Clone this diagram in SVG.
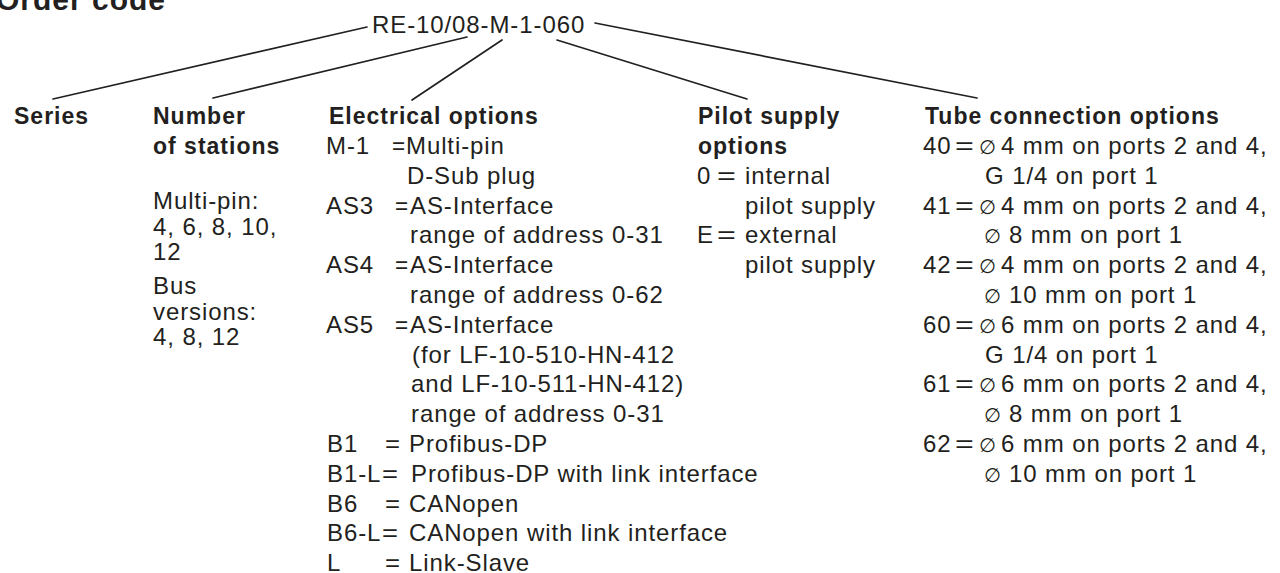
<svg xmlns="http://www.w3.org/2000/svg" width="1280" height="573" viewBox="0 0 1280 573">
<style>
text{font-family:"Liberation Sans",Arial,"DejaVu Sans",sans-serif;fill:#231f20;font-size:24px;letter-spacing:0.9px}
.h{font-weight:bold;font-size:23px;letter-spacing:1px}
.t{font-weight:bold;font-size:30px;letter-spacing:1px}
.d{font-family:"DejaVu Sans",sans-serif;font-size:19.5px;letter-spacing:0}
.c{stroke:#231f20;stroke-width:1.7;fill:none;stroke-linecap:round}
</style>
<rect width="1280" height="573" fill="#ffffff"/>
<g id="title"><text class="t" x="-4" y="10">Order code</text></g>
<g id="code"><text x="372" y="33">RE-10/08-M-1-060</text></g>
<g id="connectors">
<line class="c" x1="367" y1="27" x2="53" y2="99"/>
<line class="c" x1="467" y1="37" x2="213" y2="98"/>
<line class="c" x1="502" y1="40" x2="412" y2="100"/>
<line class="c" x1="557" y1="40" x2="747" y2="99"/>
<line class="c" x1="595" y1="23" x2="977" y2="98"/>
</g>
<g id="series"><text class="h" x="14" y="124">Series</text></g>
<g id="stations">
<text class="h" x="153" y="124">Number</text>
<text class="h" x="153" y="154">of stations</text>
<text x="153" y="209">Multi-pin:</text>
<text x="153" y="234.5">4, 6, 8, 10,</text>
<text x="153" y="260">12</text>
<text x="153" y="294">Bus</text>
<text x="153" y="319.5">versions:</text>
<text x="153" y="345">4, 8, 12</text>
</g>
<g id="electrical">
<text class="h" x="329" y="124">Electrical options</text>
<text x="326" y="154">M-1</text><text x="392" y="154" textLength="14" lengthAdjust="spacingAndGlyphs">=</text><text x="406" y="154">Multi-pin</text>
<text x="407" y="184">D-Sub plug</text>
<text x="326" y="214">AS3</text><text x="395" y="214" textLength="14" lengthAdjust="spacingAndGlyphs">=</text><text x="410" y="214">AS-Interface</text>
<text x="410" y="243">range of address 0-31</text>
<text x="326" y="273">AS4</text><text x="395" y="273" textLength="14" lengthAdjust="spacingAndGlyphs">=</text><text x="410" y="273">AS-Interface</text>
<text x="410" y="303">range of address 0-62</text>
<text x="326" y="333">AS5</text><text x="395" y="333" textLength="14" lengthAdjust="spacingAndGlyphs">=</text><text x="410" y="333">AS-Interface</text>
<text x="412" y="362.6">(for LF-10-510-HN-412</text>
<text x="411" y="392.4">and LF-10-511-HN-412)</text>
<text x="411" y="422">range of address 0-31</text>
<text x="327" y="452">B1</text><text x="385" y="452" textLength="16" lengthAdjust="spacingAndGlyphs">=</text><text x="409" y="452">Profibus-DP</text>
<text x="327" y="482">B1-L</text><text x="382" y="482" textLength="17" lengthAdjust="spacingAndGlyphs">=</text><text x="411" y="482">Profibus-DP with link interface</text>
<text x="327" y="511.6">B6</text><text x="385" y="511.6" textLength="16" lengthAdjust="spacingAndGlyphs">=</text><text x="409" y="511.6">CANopen</text>
<text x="327" y="541.4">B6-L</text><text x="382" y="541.4" textLength="17" lengthAdjust="spacingAndGlyphs">=</text><text x="409" y="541.4">CANopen with link interface</text>
<text x="327" y="571.2">L</text><text x="385" y="571.2" textLength="16" lengthAdjust="spacingAndGlyphs">=</text><text x="409" y="571.2">Link-Slave</text>
</g>
<g id="pilot">
<text class="h" x="698" y="124">Pilot supply</text>
<text class="h" x="698" y="154">options</text>
<text x="697" y="184">0</text><text x="717" y="184" textLength="20" lengthAdjust="spacingAndGlyphs">=</text><text x="745" y="184">internal</text>
<text x="745" y="214">pilot supply</text>
<text x="697" y="243">E</text><text x="717" y="243" textLength="20" lengthAdjust="spacingAndGlyphs">=</text><text x="745" y="243">external</text>
<text x="745" y="273">pilot supply</text>
</g>
<g id="tube">
<text class="h" x="925" y="124">Tube connection options</text>
<text x="923" y="154">40</text><text x="955" y="154" textLength="20" lengthAdjust="spacingAndGlyphs">=</text><text x="979" y="154"><tspan class="d">∅</tspan><tspan x="1001">4 mm on ports 2 and 4,</tspan></text>
<text x="985" y="184">G 1/4 on port 1</text>
<text x="923" y="214">41</text><text x="955" y="214" textLength="20" lengthAdjust="spacingAndGlyphs">=</text><text x="979" y="214"><tspan class="d">∅</tspan><tspan x="1001">4 mm on ports 2 and 4,</tspan></text>
<text x="984" y="243"><tspan class="d">∅</tspan><tspan x="1009">8 mm on port 1</tspan></text>
<text x="923" y="273">42</text><text x="955" y="273" textLength="20" lengthAdjust="spacingAndGlyphs">=</text><text x="979" y="273"><tspan class="d">∅</tspan><tspan x="1001">4 mm on ports 2 and 4,</tspan></text>
<text x="984" y="303"><tspan class="d">∅</tspan><tspan x="1009">10 mm on port 1</tspan></text>
<text x="923" y="333">60</text><text x="955" y="333" textLength="20" lengthAdjust="spacingAndGlyphs">=</text><text x="979" y="333"><tspan class="d">∅</tspan><tspan x="1001">6 mm on ports 2 and 4,</tspan></text>
<text x="985" y="362.6">G 1/4 on port 1</text>
<text x="923" y="392.4">61</text><text x="955" y="392.4" textLength="20" lengthAdjust="spacingAndGlyphs">=</text><text x="979" y="392.4"><tspan class="d">∅</tspan><tspan x="1001">6 mm on ports 2 and 4,</tspan></text>
<text x="984" y="422"><tspan class="d">∅</tspan><tspan x="1009">8 mm on port 1</tspan></text>
<text x="923" y="452">62</text><text x="955" y="452" textLength="20" lengthAdjust="spacingAndGlyphs">=</text><text x="979" y="452"><tspan class="d">∅</tspan><tspan x="1001">6 mm on ports 2 and 4,</tspan></text>
<text x="984" y="482"><tspan class="d">∅</tspan><tspan x="1009">10 mm on port 1</tspan></text>
</g>
</svg>
